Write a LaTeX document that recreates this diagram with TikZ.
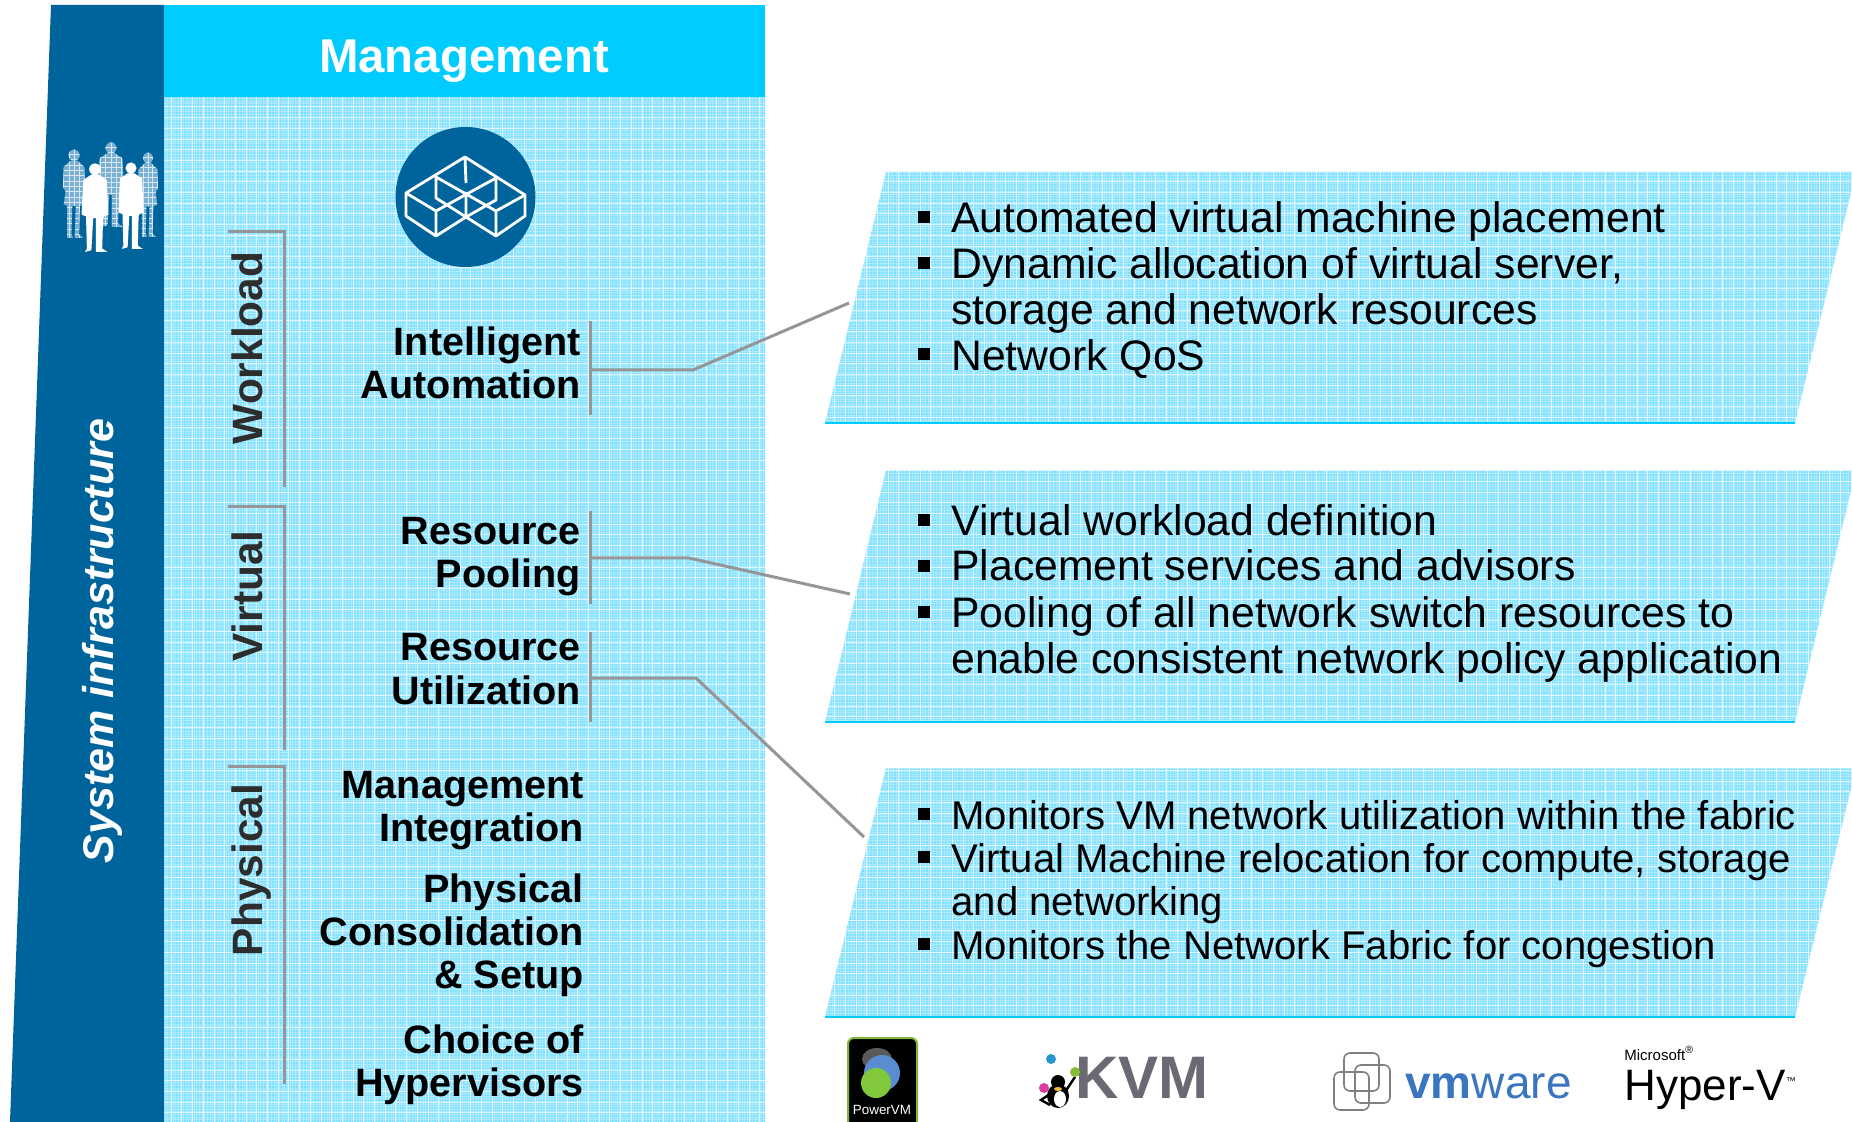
\documentclass[tikz,border=0pt]{standalone}
\usepackage{fontspec}
\setmainfont{Liberation Sans}
\definecolor{bandblue}{RGB}{0,100,156}
\definecolor{headcyan}{RGB}{0,204,255}
\definecolor{panelblue}{RGB}{125,224,255}
\definecolor{linkgray}{RGB}{150,150,150}
\definecolor{vmblue}{RGB}{58,117,191}
\definecolor{kvmgray}{RGB}{105,106,115}
\definecolor{darklabel}{RGB}{45,45,45}
\definecolor{backblue}{RGB}{120,175,210}
\definecolor{pvmedge}{RGB}{130,180,60}
\definecolor{pvmblue}{RGB}{90,140,210}
\definecolor{pvmgreen}{RGB}{130,200,60}
\definecolor{dotblue}{RGB}{40,150,210}
\definecolor{dotgreen}{RGB}{130,190,50}
\definecolor{dotpink}{RGB}{220,60,160}
\definecolor{beak}{RGB}{235,190,60}
\newcommand{\sz}[2]{\fontsize{#1}{#2}\selectfont}
\tikzset{
  link/.style = {draw = linkgray, line width = 1.5pt},
  rightlabel/.style = {anchor = base east, align = right, font = \sz{19.8}{21.5}\bfseries},
  sidelabel/.style = {rotate = 90, anchor = base, inner sep = 0pt, font = \sz{21.2}{24}\bfseries, text = darklabel},
  itemtext/.style = {anchor = base west, align = left, inner sep = 0pt, font = \sz{21.35}{23}},
  smalltext/.style = {anchor = base west, align = left, inner sep = 0pt, font = \sz{20.05}{21.5}},
  iconline/.style = {draw = white, line width = 1.4pt, line join = round},
  biggrid/.style = {draw = white, line width = .5pt, opacity = .7},
  finegrid/.style = {draw = white, line width = .4pt, opacity = .35}
}
\newcommand{\manpath}{(0,7) circle (6.5) (-4,13) -- (4,13) -- (13,19) -- (15,58) -- (10,60) -- (9,62) -- (8,96) -- (14,100) -- (1,100) -- (1,62) -- (-2,62) -- (-4,98) -- (-11,100) -- (-9,96) -- (-10,60) -- (-15,58) -- (-13,19) -- cycle}
\newcommand{\womanpath}{(0,7) circle (6.5) (-4,13) -- (4,13) -- (12,20) -- (13,42) -- (10,48) -- (12,62) -- (7,64) -- (6,96) -- (11,100) -- (1,100) -- (2,64) -- (-2,64) -- (-3,96) -- (-1,100) -- (-8,100) -- (-8,64) -- (-12,62) -- (-10,48) -- (-13,42) -- (-12,20) -- cycle}
\newcommand{\backperson}[5]{\begin{scope}[shift = {(#1,#2)}, xscale = #3, yscale = #4]
  \begin{scope}
    \clip #5;
    \fill[backblue] (-20,-5) rectangle (20,105);
    \draw[white, line width = .4pt, opacity = .7, step = 3pt] (-20,-5) grid (20,105);
  \end{scope}
\end{scope}}
\newcommand{\frontperson}[4]{\begin{scope}[shift = {(#1,#2)}, xscale = #3, yscale = #4]
  \fill[white] \manpath;
\end{scope}}
\newcommand{\panelfill}[1]{\begin{scope}
  \clip #1;
  \fill[panelblue] (0,0) rectangle (1852,1122);
  \draw[finegrid, step = 1.33pt] (0,0) grid (1852,1122);
  \draw[biggrid, step = 5.35pt] (0,0) grid (1852,1122);
\end{scope}}
\newcommand{\bul}[2]{\fill (#1,#2-6) rectangle (#1+12,#2+6);}
\begin{document}
\begin{tikzpicture}[x = .5pt, y = -.5pt]
\path[use as bounding box, clip] (0,0) rectangle (1852,1122);
\fill[white] (0,0) rectangle (1852,1122);

\fill[bandblue] (51,5) -- (164,5) -- (164,1122) -- (10,1122) -- cycle;
\fill[headcyan] (164,5) rectangle (765,98);
\panelfill{(164,98) rectangle (765,1122)}
\panelfill{(886,172) -- (1856,172) -- (1795,423) -- (825,423) -- cycle}
\panelfill{(886,470) -- (1856,470) -- (1795,722) -- (825,722) -- cycle}
\panelfill{(886,768) -- (1856,768) -- (1795,1017) -- (825,1017) -- cycle}
\foreach \yb in {423,722,1017}
  \draw[headcyan, line width = .6pt] (825,\yb) -- (1795,\yb);

\node[font = \sz{23.7}{26}\bfseries, text = white] (mgmt) at (464,61) {Management};
\node[rotate = 90, anchor = base, inner sep = 0pt, font = \sz{21.5}{24}\bfseries\itshape, text = white] (sysinfra) at (113,641) {System infrastructure};

\backperson{74}{149}{.85}{.89}{\womanpath}
\backperson{111}{142}{.88}{.85}{\manpath}
\backperson{148}{152}{.77}{.85}{\womanpath}
\frontperson{95}{163}{.9}{.89}
\frontperson{131}{162}{.85}{.87}

\fill[bandblue] (465.5,197) circle (70);
\draw[iconline] (406,193) -- (465,157) -- (525,195) -- (525,216) -- (496,236) -- (466,217)
  -- (436,236) -- (406,216) -- cycle;
\draw[iconline] (406,193) -- (436,211) -- (436,236);
\draw[iconline] (525,195) -- (496,211) -- (496,236);
\draw[iconline] (436,211) -- (496,178) -- (496,200) -- (466,217) -- (436,198) -- (436,177) -- (496,211);
\draw[iconline] (465,157) -- (466,183) (466,192) -- (466,217);

\coordinate (wltop) at (228,232);
\coordinate (wlcor) at (284,232);
\coordinate (wlend) at (284,487);
\coordinate (vrtop) at (228,507);
\coordinate (vrcor) at (284,507);
\coordinate (vrend) at (284,750);
\coordinate (phtop) at (228,766);
\coordinate (phcor) at (284,766);
\coordinate (phend) at (284,1084);
\draw[link] (wltop) -- (wlcor) -- (wlend);
\draw[link] (vrtop) -- (vrcor) -- (vrend);
\draw[link] (phtop) -- (phcor) -- (phend);

\node[sidelabel] (workload) at (262,348) {Workload};
\node[sidelabel] (virtual) at (262,596) {Virtual};
\node[sidelabel] (physical) at (262,870) {Physical};

\node[rightlabel] (autolabel) at (588,399) {Intelligent\\Automation};
\node[rightlabel] (poollabel) at (588,588) {Resource\\Pooling};
\node[rightlabel] (utillabel) at (588,704) {Resource\\Utilization};
\node[rightlabel] (intlabel) at (591,841) {Management\\Integration};
\node[rightlabel] (conslabel) at (591,988) {Physical\\Consolidation\\\& Setup};
\node[rightlabel] (hyplabel) at (591,1096) {Choice of\\Hypervisors};

\coordinate (autotop) at (590,321);
\coordinate (autobot) at (590,415);
\coordinate (autostart) at (590,370);
\coordinate (autoknee) at (693,370);
\coordinate (autoend) at (849,303);
\coordinate (pooltop) at (590,511);
\coordinate (poolbot) at (590,604);
\coordinate (poolstart) at (590,558);
\coordinate (poolknee) at (689,558);
\coordinate (poolend) at (850,594);
\coordinate (utiltop) at (590,632);
\coordinate (utilbot) at (590,722);
\coordinate (utilstart) at (590,678);
\coordinate (utilknee) at (696,678);
\coordinate (utilend) at (864,837);
\draw[link] (autotop) -- (autobot);
\draw[link] (autostart) -- (autoknee) -- (autoend);
\draw[link] (pooltop) -- (poolbot);
\draw[link] (poolstart) -- (poolknee) -- (poolend);
\draw[link] (utiltop) -- (utilbot);
\draw[link] (utilstart) -- (utilknee) -- (utilend);

\foreach \yb in {217,263,354,520,566,612,814,857,944} {
  \bul{918}{\yb}
}

\node[itemtext] (placetext) at (951,232.6) {Automated virtual machine placement};
\node[itemtext] (alloctext) at (951,325) {Dynamic allocation of virtual server,\\storage and network resources};
\node[itemtext] (qostext) at (951,371) {Network QoS};
\node[itemtext] (defntext) at (951,536) {Virtual workload definition};
\node[itemtext] (advtext) at (951,581) {Placement services and advisors};
\node[itemtext] (swtext) at (951,673) {Pooling of all network switch resources to\\enable consistent network policy application};
\node[smalltext] (montext) at (951,829) {Monitors VM network utilization within the fabric};
\node[smalltext] (reloctext) at (951,915) {Virtual Machine relocation for compute, storage\\and networking};
\node[smalltext] (fabtext) at (951,959) {Monitors the Network Fabric for congestion};

\filldraw[fill = black, draw = pvmedge, line width = 1pt, rounded corners = 3pt] (848,1038) rectangle (917,1130);
\fill[gray!70!black] (877,1059) ellipse (15 and 11);
\fill[pvmblue] (882,1073) circle (18);
\fill[pvmgreen] (876,1083) circle (15);
\node[font = \sz{6.7}{8}, text = white, inner sep = 0pt] (powervm) at (882,1110) {PowerVM};

\node[anchor = base west, inner sep = 0pt, font = \sz{30}{32}\bfseries, text = kvmgray] (kvm) at (1075,1098) {KVM};
\fill[black] (1058,1096) ellipse (11 and 12);
\fill[black] (1058,1082) circle (7);
\fill[white] (1060,1099) ellipse (6 and 8);
\fill[beak] (1058,1089) ellipse (4 and 2);
\draw[black, line width = 1.2pt] (1065,1092) -- (1075,1077);
\draw[black, line width = 1.2pt] (1050,1094) -- (1041,1100) -- (1050,1105);
\fill[dotblue] (1051,1059) circle (5);
\fill[dotgreen] (1075,1072) circle (5);
\fill[dotpink] (1044,1088) circle (5);

\foreach \xo/\yo in {1334/1072, 1344/1053, 1355/1065}
  \draw[gray, line width = .8pt, rounded corners = 3pt] (\xo,\yo) rectangle ++(35,38);
\node[anchor = base west, inner sep = 0pt, font = \sz{23}{26}, text = vmblue] (vmware) at (1405,1098) {\textbf{vm}ware};

\node[anchor = base west, inner sep = 0pt, font = \sz{7.5}{9}] (microsoft) at (1624,1060) {Microsoft\textsuperscript{®}};
\node[anchor = base west, inner sep = 0pt, font = \sz{22}{24}] (hyperv) at (1624,1100) {Hyper-V\textsuperscript{\sz{5}{6}™}};
\end{tikzpicture}
\end{document}
